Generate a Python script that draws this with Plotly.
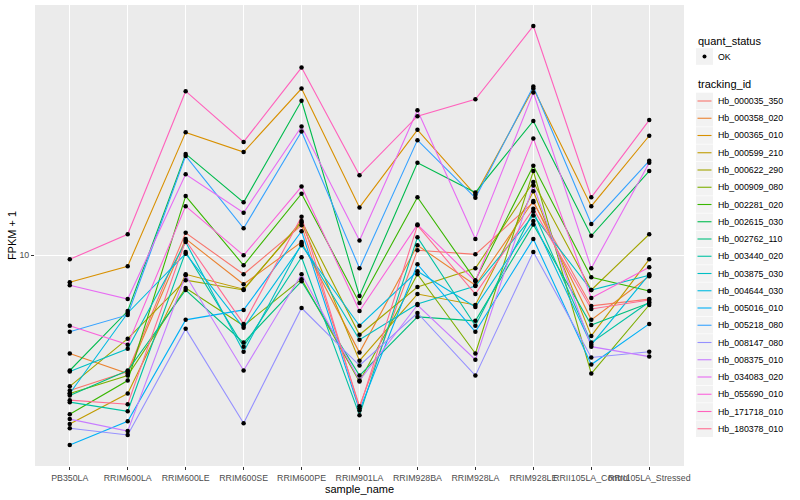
import plotly.graph_objects as go
import numpy as np

samples = ["PB350LA", "RRIM600LA", "RRIM600LE", "RRIM600SE", "RRIM600PE", "RRIM901LA",
           "RRIM928BA", "RRIM928LA", "RRIM928LE", "RRII105LA_Control", "RRII105LA_Stressed"]

tracking_ids = ["Hb_000035_350", "Hb_000358_020", "Hb_000365_010", "Hb_000599_210", "Hb_000622_290",
                "Hb_000909_080", "Hb_002281_020", "Hb_002615_030", "Hb_002762_110", "Hb_003440_020",
                "Hb_003875_030", "Hb_004644_030", "Hb_005016_010", "Hb_005218_080", "Hb_008147_080",
                "Hb_008375_010", "Hb_034083_020", "Hb_055690_010", "Hb_171718_010", "Hb_180378_010"]

quant_status = ["OK"]

# FPKM + 1 per sample (same order as samples)
hb_000035_350 = [4.57, 5.10, 11.4, 8.96, 11.9, 4.17, 10.3, 10.06, 13.6, 7.46, 7.76]
hb_000358_020 = [5.66, 5.04, 11.0, 8.46, 10.8, 5.69, 10.6, 8.41, 13.7, 6.88, 8.86]
hb_000365_010 = [8.56, 9.39, 20.4, 18.2, 26.3, 13.2, 20.7, 14.2, 26.3, 13.3, 20.0]
hb_000599_210 = [3.76, 4.49, 8.96, 8.22, 12.1, 5.43, 7.99, 7.50, 14.5, 6.27, 9.77]
hb_000622_290 = [4.68, 6.17, 8.66, 8.18, 12.2, 6.31, 8.32, 9.28, 15.3, 8.18, 11.3]
hb_000909_080 = [4.49, 4.98, 8.27, 6.65, 8.71, 4.81, 8.96, 5.66, 16.3, 5.04, 7.50]
hb_002281_020 = [3.98, 4.84, 14.1, 9.44, 14.3, 7.59, 14.0, 8.66, 16.8, 8.81, 8.13]
hb_002615_030 = [5.13, 7.24, 18.0, 13.6, 24.5, 7.90, 17.1, 14.4, 21.8, 11.2, 16.3]
hb_002762_110 = [4.44, 5.13, 8.18, 6.03, 8.61, 4.98, 7.00, 6.84, 11.95, 6.68, 7.59]
hb_003440_020 = [4.27, 4.05, 10.2, 5.89, 9.89, 3.96, 11.1, 6.65, 12.9, 6.03, 7.63]
hb_003875_030 = [5.10, 5.82, 10.8, 5.72, 10.7, 6.13, 7.54, 8.37, 12.6, 8.18, 8.91]
hb_004644_030 = [4.49, 7.16, 10.1, 6.57, 10.6, 6.65, 9.12, 7.41, 12.2, 5.96, 8.96]
hb_005016_010 = [3.33, 3.82, 6.88, 7.29, 11.5, 4.07, 9.50, 6.42, 11.0, 5.31, 6.72]
hb_005218_080 = [6.42, 7.08, 17.8, 11.7, 20.5, 9.28, 19.5, 13.96, 26.6, 12.0, 17.3]
hb_008147_080 = [3.67, 3.53, 6.53, 3.78, 7.37, 5.28, 7.16, 4.98, 10.2, 5.53, 5.72]
hb_008375_010 = [3.87, 3.61, 8.91, 5.13, 8.96, 4.84, 7.50, 5.46, 15.0, 5.89, 5.56]
hb_034083_020 = [8.41, 7.76, 16.0, 12.8, 21.1, 10.9, 23.2, 11.0, 25.7, 9.28, 17.1]
hb_055690_010 = [6.65, 5.96, 13.3, 10.0, 14.9, 7.24, 11.95, 8.61, 19.7, 7.81, 9.33]
hb_171718_010 = [9.77, 11.3, 25.9, 19.3, 29.7, 15.9, 22.4, 24.7, 37.8, 14.0, 21.9]
hb_180378_010 = [4.32, 4.22, 10.9, 6.72, 12.5, 4.12, 11.9, 7.99, 13.1, 7.33, 7.72]

series_values = [hb_000035_350, hb_000358_020, hb_000365_010, hb_000599_210, hb_000622_290,
                 hb_000909_080, hb_002281_020, hb_002615_030, hb_002762_110, hb_003440_020,
                 hb_003875_030, hb_004644_030, hb_005016_010, hb_005218_080, hb_008147_080,
                 hb_008375_010, hb_034083_020, hb_055690_010, hb_171718_010, hb_180378_010]

colors = ["#F8766D", "#EA8331", "#D89000", "#C09B00", "#A3A500", "#7CAE00", "#39B600", "#00BB4E",
          "#00BF7D", "#00C1A3", "#00BFC4", "#00BAE0", "#00B0F6", "#35A2FF", "#9590FF", "#C77CFF",
          "#E76BF3", "#FA62DB", "#FF62BC", "#FF6C91"]

FONT = "Liberation Sans, Arial, Helvetica, sans-serif"

# page layout (pixels)
W, H = 800, 500
ML, MR, MT, MB = 35, 116, 5, 34
PW, PH = W - ML - MR, H - MT - MB


def px2x(px):
    return (px - ML) / PW


def py2y(py):
    return (H - MB - py) / PH


fig = go.Figure()

for tid, vals, col in zip(tracking_ids, series_values, colors):
    fig.add_trace(go.Scatter(
        x=samples, y=vals, mode="lines", name=tid,
        line=dict(color=col, width=1.1), showlegend=False,
    ))

all_x = [s for _ in series_values for s in samples]
all_y = [v for vals in series_values for v in vals]
fig.add_trace(go.Scatter(
    x=all_x, y=all_y, mode="markers", name=quant_status[0],
    marker=dict(color="black", size=4.5, symbol="circle"), showlegend=False,
))

logs = np.log10(all_y)
span = logs.max() - logs.min()
yrange = [logs.min() - 0.05 * span, logs.max() + 0.05 * span]

# ---- manual ggplot-style legend ----
shapes = []
annotations = []
KX0, KX1 = 696, 713
TX = 716

annotations.append(dict(xref="paper", yref="paper", x=px2x(KX0), y=py2y(41), text="quant_status",
                        showarrow=False, xanchor="left", yanchor="middle",
                        font=dict(size=11, family=FONT, color="black")))
cy = 56.5
shapes.append(dict(type="rect", xref="paper", yref="paper", x0=px2x(KX0), x1=px2x(KX1),
                   y0=py2y(cy - 8.3), y1=py2y(cy + 8.3), fillcolor="#F2F2F2", line=dict(width=0),
                   layer="above"))
shapes.append(dict(type="circle", xref="paper", yref="paper", x0=px2x(702.5), x1=px2x(706.5),
                   y0=py2y(cy - 2), y1=py2y(cy + 2), fillcolor="black", line=dict(width=0),
                   layer="above"))
annotations.append(dict(xref="paper", yref="paper", x=px2x(TX), y=py2y(cy), text=quant_status[0],
                        showarrow=False, xanchor="left", yanchor="middle",
                        font=dict(size=8.8, family=FONT, color="black")))

annotations.append(dict(xref="paper", yref="paper", x=px2x(KX0), y=py2y(84), text="tracking_id",
                        showarrow=False, xanchor="left", yanchor="middle",
                        font=dict(size=11, family=FONT, color="black")))
for i, (tid, col) in enumerate(zip(tracking_ids, colors)):
    cy = 101 + 17.25 * i
    shapes.append(dict(type="rect", xref="paper", yref="paper", x0=px2x(KX0), x1=px2x(KX1),
                       y0=py2y(cy - 8.3), y1=py2y(cy + 8.3), fillcolor="#F2F2F2", line=dict(width=0),
                       layer="above"))
    shapes.append(dict(type="line", xref="paper", yref="paper", x0=px2x(KX0 + 1.5), x1=px2x(KX1 - 1.5),
                       y0=py2y(cy), y1=py2y(cy), line=dict(color=col, width=1.1), layer="above"))
    annotations.append(dict(xref="paper", yref="paper", x=px2x(TX), y=py2y(cy), text=tid,
                            showarrow=False, xanchor="left", yanchor="middle",
                            font=dict(size=8.8, family=FONT, color="black")))

fig.update_layout(
    width=W, height=H,
    margin=dict(l=ML, r=MR, t=MT, b=MB, autoexpand=False),
    paper_bgcolor="white", plot_bgcolor="#EBEBEB",
    font=dict(family=FONT, color="#000000"),
    showlegend=False,
    shapes=shapes, annotations=annotations,
    xaxis=dict(
        type="category", categoryorder="array", categoryarray=samples,
        range=[-0.6, len(samples) - 0.4],
        showgrid=True, gridcolor="white", gridwidth=1.1,
        ticks="outside", ticklen=3, tickcolor="#333333", tickwidth=1,
        tickangle=0, tickfont=dict(size=8.8, color="#4D4D4D", family=FONT),
        title=dict(text="sample_name", font=dict(size=11, family=FONT), standoff=1),
        zeroline=False, showline=False, automargin=False,
    ),
    yaxis=dict(
        type="log", range=yrange,
        tickmode="array", tickvals=[10], ticktext=["10"],
        showgrid=True, gridcolor="white", gridwidth=1.1,
        ticks="outside", ticklen=3, tickcolor="#333333", tickwidth=1,
        tickfont=dict(size=8.8, color="#4D4D4D", family=FONT),
        title=dict(text="FPKM + 1", font=dict(size=11, family=FONT), standoff=0),
        zeroline=False, showline=False, automargin=False, minor=dict(showgrid=False),
    ),
)

fig.write_html("out.html", config={"displayModeBar": False},
               post_script="document.body.style.margin='0px';")
